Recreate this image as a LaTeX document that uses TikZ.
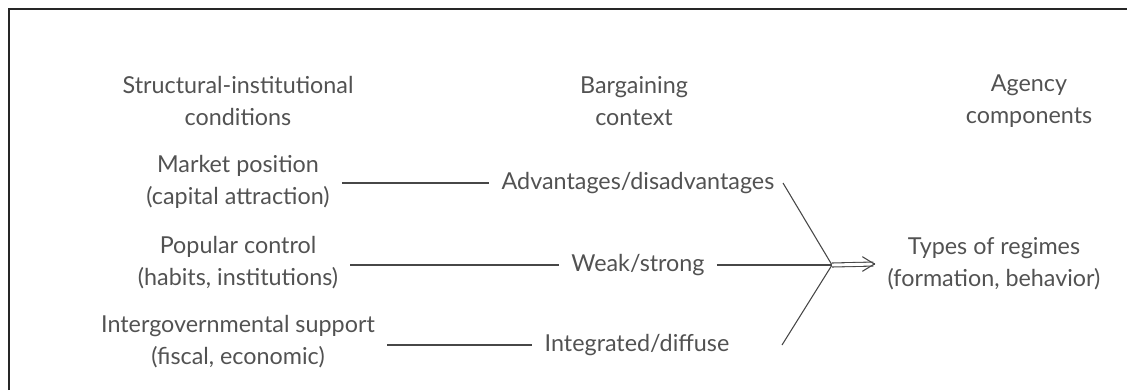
\documentclass[tikz,border=0pt]{standalone}
\usepackage{fontspec}
\setmainfont{Lato}
\usepackage{xcolor}
\usepackage{tikz}
\usetikzlibrary{arrows.meta}
\usetikzlibrary{positioning, calc}

\begin{document}
\begin{tikzpicture}[x=0.75pt, y=-0.75pt,
    font=\fontsize{17.5}{24}\selectfont,
    lbl/.style={align=center, text=black!68, inner sep=9pt},
    conn/.style={draw=black!72, line width=0.8pt}]
  \useasboundingbox (0,0) rectangle (1127,390);
  % cornice
  \draw[black!85, line width=1.6pt] (9,390) -- (9,9) -- (1127,9);

  % intestazioni
  \node[lbl] (hstruct) at (238,101) {Structural-institutional\\conditions};
  \node[lbl] (hbarg) at (634,101) {Bargaining\\context};
  \node[lbl] (hagency) at (1029,101) {Agency\\components};

  % condizioni
  \node[lbl] (market) at (238,182) {Market position\\(capital attraction)};
  \node[lbl] (popular) at (238,263) {Popular control\\(habits, institutions)};
  \node[lbl] (intergov) at (238,342) {Intergovernmental support\\(fiscal, economic)};

  % contesto
  \node[lbl] (adv) at (638,183) {Advantages/disadvantages};
  \node[lbl] (weak) at (638,265) {Weak/strong};
  \node[lbl] (integ) at (637,345) {Integrated/diffuse};

  % regimi
  \node[lbl] (regimes) at (994,264) {Types of regimes\\(formation, behavior)};

  \coordinate (join) at (832,265);
  \coordinate (advend) at (783,183);
  \coordinate (integend) at (782,345);

  \draw[conn] (market.east |- adv) -- (adv.west);
  \draw[conn] (popular.east |- weak) -- (weak.west);
  \draw[conn] (intergov.east |- integ) -- (integ.west);
  \draw[conn] (weak.east) -- (join);
  \draw[conn] (advend) -- (join) -- (integend);
  % freccia doppia
  \draw[conn, double, double distance=2.2pt, shorten >=1.5pt] (join) -- (regimes.west);
  \draw[conn, -{Straight Barb[length=9pt, width=11pt]}] ($(regimes.west)+(-1,0)$) -- (regimes.west);
\end{tikzpicture}
\end{document}
